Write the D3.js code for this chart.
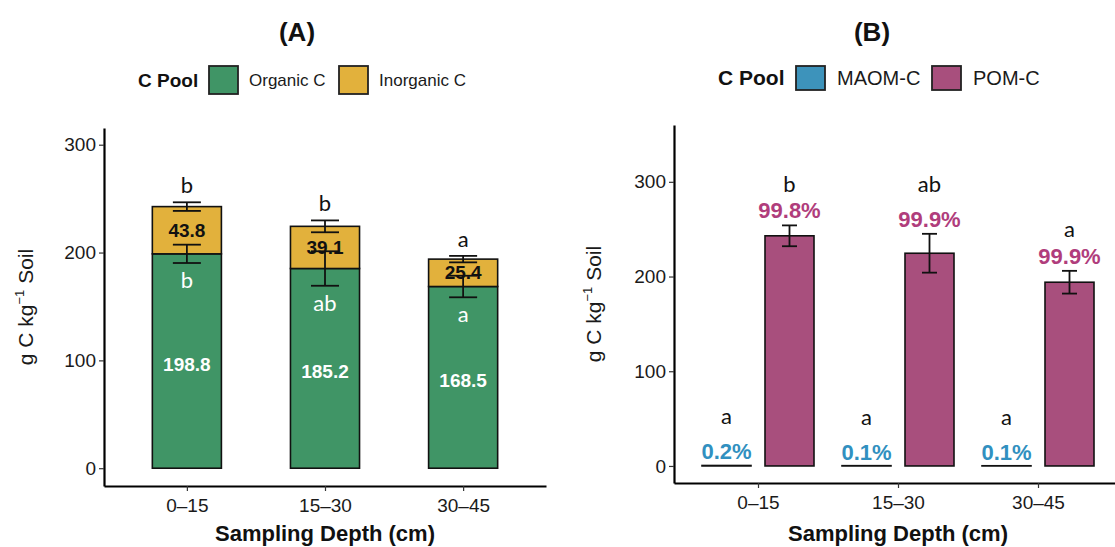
<!DOCTYPE html>
<html><head><meta charset="utf-8">
<script src="https://cdn.jsdelivr.net/npm/d3@7"></script>
<style>body{margin:0;background:#fff}svg{display:block}</style>
</head><body>
<svg id="c" width="1115" height="547"></svg>
<script>
// ---------- data ----------
const depths = ["0–15", "15–30", "30–45"];
const organicC = [198.8, 185.2, 168.5];
const organicSE = [8.5, 16, 10];
const inorganicC = [43.8, 39.1, 25.4];
const inorganicSE = [4, 5.5, 3];
const totalLetters = ["b", "b", "a"];
const organicLetters = ["b", "ab", "a"];
const poolsA = ["Organic C", "Inorganic C"];

const maomC = [0.5, 0.3, 0.2];
const maomSE = [0, 0, 0];
const pomC = [243, 224.6, 194];
const pomSE = [11, 20.5, 12];
const maomPct = ["0.2%", "0.1%", "0.1%"];
const pomPct = ["99.8%", "99.9%", "99.9%"];
const maomLetters = ["a", "a", "a"];
const pomLetters = ["b", "ab", "a"];
const poolsB = ["MAOM-C", "POM-C"];

const yTicks = [0, 100, 200, 300];

// ---------- style ----------
const GREEN = "#409566", GOLD = "#e2b13c", BLUE = "#3d93bb", PINK = "#a84f7d";
const BLUE_T = "#3190c0", PINK_T = "#b03d7c";
const SANS = "'Liberation Sans', Arial, sans-serif";
const LET = "Lato, 'Open Sans', sans-serif";

const svg = d3.select("#c");

function axes(g, x, y, yTitleX, titleText, titleX) {
  const xa = g.append("g").attr("transform", `translate(0,${y.range()[0]})`)
    .call(d3.axisBottom(x).tickSize(5).tickSizeOuter(0));
  xa.select(".domain").attr("stroke", "#000").attr("stroke-width", 2.2);
  xa.selectAll(".tick line").attr("stroke", "#333").attr("stroke-width", 1.2);
  xa.selectAll(".tick text").attr("font-family", SANS).attr("font-size", 19)
    .attr("fill", "#1a1a1a").attr("dy", "0.95em");
  const ya = g.append("g").attr("transform", `translate(${x.range()[0]},0)`)
    .call(d3.axisLeft(y).tickValues(yTicks).tickSize(5).tickSizeOuter(0));
  ya.select(".domain").attr("stroke", "#000").attr("stroke-width", 2.2);
  ya.selectAll(".tick line").attr("stroke", "#333").attr("stroke-width", 1.2);
  ya.selectAll(".tick text").attr("font-family", SANS).attr("font-size", 19)
    .attr("fill", "#1a1a1a").attr("x", -8);
  // x title
  const xm = (x.range()[0] + x.range()[1]) / 2;
  g.append("text").attr("x", xm).attr("y", 541).attr("text-anchor", "middle")
    .attr("font-family", SANS).attr("font-weight", "bold").attr("font-size", 22)
    .attr("fill", "#111").text("Sampling Depth (cm)");
  // y title
  const ym = (y.range()[0] + y.range()[1]) / 2;
  const t = g.append("text").attr("transform", `translate(${yTitleX},${ym}) rotate(-90)`)
    .attr("text-anchor", "middle").attr("font-family", SANS).attr("font-size", 21).attr("fill", "#1a1a1a");
  t.append("tspan").text("g C kg");
  t.append("tspan").attr("font-size", 13).attr("dy", -9).text("−1");
  t.append("tspan").attr("dy", 9).text(" Soil");
  // panel title
  g.append("text").attr("x", titleX).attr("y", 41).attr("text-anchor", "middle")
    .attr("font-family", SANS).attr("font-weight", "bold").attr("font-size", 26)
    .attr("fill", "#111").text(titleText);
}

function errbar(g, cx, y, lo, hi, cap) {
  g.append("line").attr("x1", cx).attr("x2", cx).attr("y1", y(lo)).attr("y2", y(hi))
    .attr("stroke", "#111").attr("stroke-width", 1.8);
  [lo, hi].forEach(v => g.append("line").attr("x1", cx - cap / 2).attr("x2", cx + cap / 2)
    .attr("y1", y(v)).attr("y2", y(v)).attr("stroke", "#111").attr("stroke-width", 1.8));
}

function legend(g, title, items, colors, titleX, cy, fsT, fsL, boxX, boxW, boxH, labX) {
  g.append("text").attr("x", titleX).attr("y", cy).attr("dy", "0.35em")
    .attr("font-family", SANS).attr("font-weight", "bold").attr("font-size", fsT)
    .attr("fill", "#111").text(title);
  items.forEach((d, i) => {
    g.append("rect").attr("x", boxX[i]).attr("y", cy - boxH / 2).attr("width", boxW).attr("height", boxH)
      .attr("fill", colors[i]).attr("stroke", "#222").attr("stroke-width", 1.8);
    g.append("text").attr("x", labX[i]).attr("y", cy).attr("dy", "0.35em")
      .attr("font-family", SANS).attr("font-size", fsL).attr("fill", "#1a1a1a").text(d);
  });
}

// ---------- Panel A ----------
{
  const g = svg.append("g");
  const x = d3.scalePoint().domain(depths).range([104, 546]).padding(0.6);
  const y = d3.scaleLinear().domain([-16.5, 315.5]).range([486, 128]);
  const bw = x.step() * 0.5;
  axes(g, x, y, 33, "(A)", 297);
  legend(g, "C Pool", poolsA, [GREEN, GOLD], 138, 80, 19, 17, [209, 339], 29, 28, [249, 379]);

  depths.forEach((d, i) => {
    const cx = x(d);
    const tot = organicC[i] + inorganicC[i];
    g.append("rect").attr("x", cx - bw / 2).attr("width", bw)
      .attr("y", y(organicC[i])).attr("height", y(0) - y(organicC[i]))
      .attr("fill", GREEN).attr("stroke", "#111").attr("stroke-width", 1.6);
    g.append("rect").attr("x", cx - bw / 2).attr("width", bw)
      .attr("y", y(tot)).attr("height", y(organicC[i]) - y(tot))
      .attr("fill", GOLD).attr("stroke", "#111").attr("stroke-width", 1.6);
    // value labels
    g.append("text").attr("x", cx).attr("y", y(organicC[i] / 2) + 3).attr("dy", "0.35em")
      .attr("text-anchor", "middle").attr("font-family", SANS).attr("font-weight", "bold")
      .attr("font-size", 19).attr("fill", "#fff").text(organicC[i].toFixed(1));
    g.append("text").attr("x", cx).attr("y", y(organicC[i] + inorganicC[i] / 2)).attr("dy", "0.35em")
      .attr("text-anchor", "middle").attr("font-family", SANS).attr("font-weight", "bold")
      .attr("font-size", 19).attr("fill", "#111").text(inorganicC[i].toFixed(1));
    // letters
    g.append("text").attr("x", cx).attr("y", y(tot + inorganicSE[i]) - 9)
      .attr("text-anchor", "middle").attr("font-family", LET).attr("font-size", 22)
      .attr("fill", "#111").text(totalLetters[i]);
    g.append("text").attr("x", cx).attr("y", y(organicC[i] - organicSE[i]) + 25)
      .attr("text-anchor", "middle").attr("font-family", LET).attr("font-size", 22)
      .attr("fill", "#fff").text(organicLetters[i]);
    // error bars
    errbar(g, cx, y, organicC[i] - organicSE[i], organicC[i] + organicSE[i], 28);
    errbar(g, cx, y, tot - inorganicSE[i], tot + inorganicSE[i], 28);
  });
}

// ---------- Panel B ----------
{
  const g = svg.append("g");
  const x = d3.scalePoint().domain(depths).range([674, 1122]).padding(0.6);
  const y = d3.scaleLinear().domain([-18, 360]).range([483, 125]);
  const bw = x.step() * 0.35, off = x.step() * 0.225;
  axes(g, x, y, 601, "(B)", 872);
  legend(g, "C Pool", poolsB, [BLUE, PINK], 718, 78, 21, 20, [796, 932], 29, 24, [837, 973]);

  const series = [
    { v: maomC, se: maomSE, pct: maomPct, let: maomLetters, fill: BLUE, tc: BLUE_T, dx: -off },
    { v: pomC, se: pomSE, pct: pomPct, let: pomLetters, fill: PINK, tc: PINK_T, dx: off }
  ];
  series.forEach((s, k) => {
    depths.forEach((d, i) => {
      const cx = x(d) + s.dx;
      g.append("rect").attr("x", cx - bw / 2).attr("width", bw)
        .attr("y", y(s.v[i])).attr("height", Math.max(0, y(0) - y(s.v[i])))
        .attr("fill", s.fill).attr("stroke", "#111").attr("stroke-width", 1.6);
      if (s.se[i] > 0) errbar(g, cx, y, s.v[i] - s.se[i], s.v[i] + s.se[i], 15);
      const top = y(s.v[i] + s.se[i]);
      g.append("text").attr("x", cx).attr("y", top - (k === 0 ? 6 : 7))
        .attr("text-anchor", "middle").attr("font-family", SANS).attr("font-weight", "bold")
        .attr("font-size", 22).attr("fill", s.tc).text(s.pct[i]);
      const ly = k === 0 ? top - 41 : y(s.v[i] + 2 * s.se[i] + 24);
      g.append("text").attr("x", cx).attr("y", ly)
        .attr("text-anchor", "middle").attr("font-family", LET).attr("font-size", 22)
        .attr("fill", "#111").text(s.let[i]);
    });
  });
}
</script>
</body></html>
